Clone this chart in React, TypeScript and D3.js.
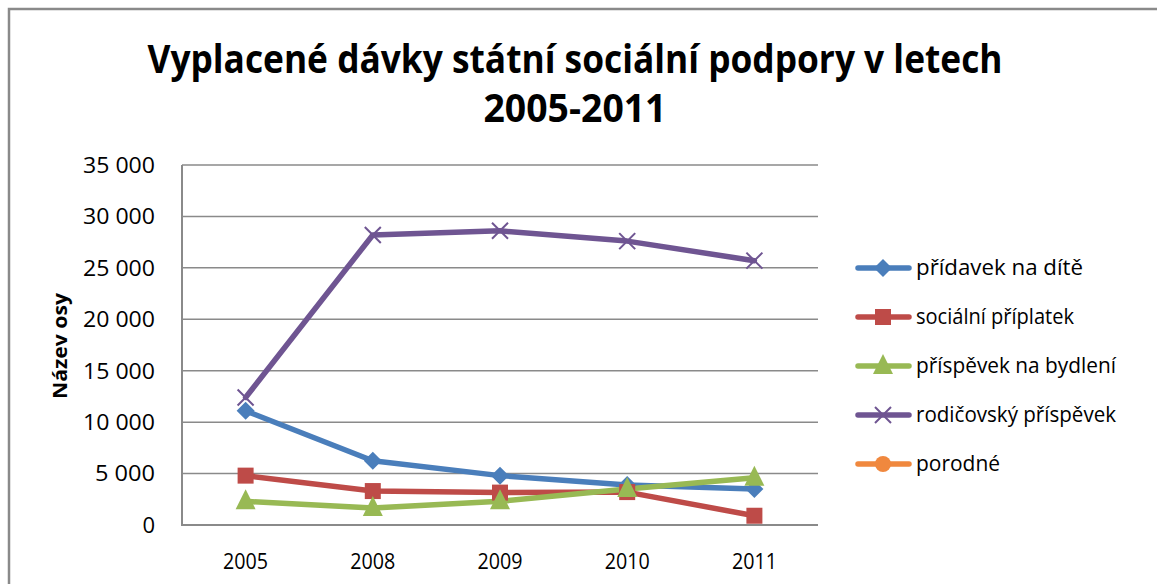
import React from "react";
import * as d3 from "d3";

const categories = ["2005", "2008", "2009", "2010", "2011"];
const seriesNames = [
  "přídavek na dítě",
  "sociální příplatek",
  "příspěvek na bydlení",
  "rodičovský příspěvek",
  "porodné",
];
const pridavek = [11100, 6250, 4800, 3900, 3500];
const socialni = [4800, 3300, 3150, 3200, 900];
const bydleni = [2300, 1650, 2300, 3500, 4600];
const rodicovsky = [12400, 28200, 28600, 27600, 25700];
const porodne: (number | null)[] = [null, null, null, null, null];
const yTicks = [0, 5000, 10000, 15000, 20000, 25000, 30000, 35000];
const titleLines = ["Vyplacené dávky státní sociální podpory v letech", "2005-2011"];
const axisTitle = "Název osy";

const colors = ["#4A7EBB", "#BE4B48", "#98B954", "#6F5592", "#F0883E"];
const markers = ["diamond", "square", "triangle", "x", "circle"];

const W = 1157;
const H = 584;
const plot = { left: 182, right: 818, top: 165, bottom: 525 };

const fmtLocale = d3.formatLocale({
  decimal: ",",
  thousands: " ",
  grouping: [3],
  currency: ["", ""],
});
const fmt = fmtLocale.format(",");

function Marker({ type, x, y, color }: { type: string; x: number; y: number; color: string }) {
  if (type === "diamond") {
    const s = 9;
    return <path d={`M${x},${y - s}L${x + s},${y}L${x},${y + s}L${x - s},${y}Z`} fill={color} />;
  }
  if (type === "square") {
    const s = 8;
    return <rect x={x - s} y={y - s} width={2 * s} height={2 * s} fill={color} />;
  }
  if (type === "triangle") {
    const s = 10;
    return <path d={`M${x},${y - s - 2}L${x + s},${y + s - 2}L${x - s},${y + s - 2}Z`} fill={color} />;
  }
  if (type === "x") {
    const s = 8;
    return (
      <path
        d={`M${x - s},${y - s}L${x + s},${y + s}M${x - s},${y + s}L${x + s},${y - s}`}
        stroke={color}
        strokeWidth={2}
        fill="none"
      />
    );
  }
  return <circle cx={x} cy={y} r={8} fill={color} />;
}

export default function App() {
  const x = d3.scalePoint<string>().domain(categories).range([plot.left, plot.right]).padding(0.5);
  const y = d3.scaleLinear().domain([0, 35000]).range([plot.bottom, plot.top]);
  const allSeries: (number | null)[][] = [pridavek, socialni, bydleni, rodicovsky, porodne];
  const line = d3
    .line<number | null>()
    .defined((d) => d !== null)
    .x((_, i) => x(categories[i]) as number)
    .y((d) => y(d as number));

  const font = "'Open Sans', 'Liberation Sans', sans-serif";
  const legendY = [268, 317, 366, 415, 464];
  const legendWidths = [167, 158, 200, 200, 84];

  return (
    <svg
      width={W}
      height={H}
      style={{ position: "absolute", left: 0, top: 0, background: "#fff" }}
      fontFamily={font}
    >
      <rect x={0} y={0} width={W} height={H} fill="#fff" />
      <rect x={9} y={9} width={W + 20} height={H + 20} fill="none" stroke="#8a8a8a" strokeWidth={2.5} />

      {/* title */}
      <text
        x={575}
        y={73}
        textAnchor="middle"
        fontWeight="bold"
        fontSize={39}
        textLength={855}
        lengthAdjust="spacingAndGlyphs"
        fill="#000"
      >
        {titleLines[0]}
      </text>
      <text
        x={575}
        y={122}
        textAnchor="middle"
        fontWeight="bold"
        fontSize={39}
        textLength={183}
        lengthAdjust="spacingAndGlyphs"
        fill="#000"
      >
        {titleLines[1]}
      </text>

      {/* gridlines */}
      {yTicks.map((t) => (
        <line
          key={t}
          x1={plot.left}
          x2={plot.right}
          y1={y(t)}
          y2={y(t)}
          stroke="#8a8a8a"
          strokeWidth={t === 0 ? 2 : 1.5}
        />
      ))}
      <line x1={plot.left} x2={plot.left} y1={plot.top} y2={plot.bottom + 1} stroke="#8a8a8a" strokeWidth={2} />

      {/* y tick labels */}
      {yTicks.map((t) => (
        <text key={t} x={155} y={y(t)} dy="0.36em" textAnchor="end" fontSize={22} fill="#000"
          textLength={t === 0 ? undefined : t < 10000 ? 60 : 72} lengthAdjust="spacingAndGlyphs">
          {fmt(t)}
        </text>
      ))}

      {/* x tick labels */}
      {categories.map((c) => (
        <text key={c} x={x(c) as number} y={561} dy="0.36em" textAnchor="middle" fontSize={22} fill="#000"
          textLength={45} lengthAdjust="spacingAndGlyphs">
          {c}
        </text>
      ))}

      {/* axis title */}
      <text
        transform={`translate(60,346) rotate(-90)`}
        textAnchor="middle"
        dy="0.35em"
        fontWeight="bold"
        fontSize={20}
        textLength={106}
        lengthAdjust="spacingAndGlyphs"
        fill="#000"
      >
        {axisTitle}
      </text>

      {/* lines */}
      {allSeries.map((s, si) => (
        <path
          key={si}
          d={line(s) || ""}
          fill="none"
          stroke={colors[si]}
          strokeWidth={5.5}
          strokeLinejoin="round"
          strokeLinecap="round"
        />
      ))}
      {allSeries.map((s, si) =>
        s.map((v, i) =>
          v === null ? null : (
            <Marker key={`${si}-${i}`} type={markers[si]} x={x(categories[i]) as number} y={y(v)} color={colors[si]} />
          )
        )
      )}

      {/* legend */}
      {seriesNames.map((n, i) => (
        <g key={n}>
          <line x1={858} x2={909} y1={legendY[i]} y2={legendY[i]} stroke={colors[i]} strokeWidth={5.5} strokeLinecap="round" />
          <Marker type={markers[i]} x={883} y={legendY[i]} color={colors[i]} />
          <text x={916} y={legendY[i]} dy="0.34em" fontSize={22} fill="#000" textLength={legendWidths[i]} lengthAdjust="spacingAndGlyphs">
            {n}
          </text>
        </g>
      ))}
    </svg>
  );
}
